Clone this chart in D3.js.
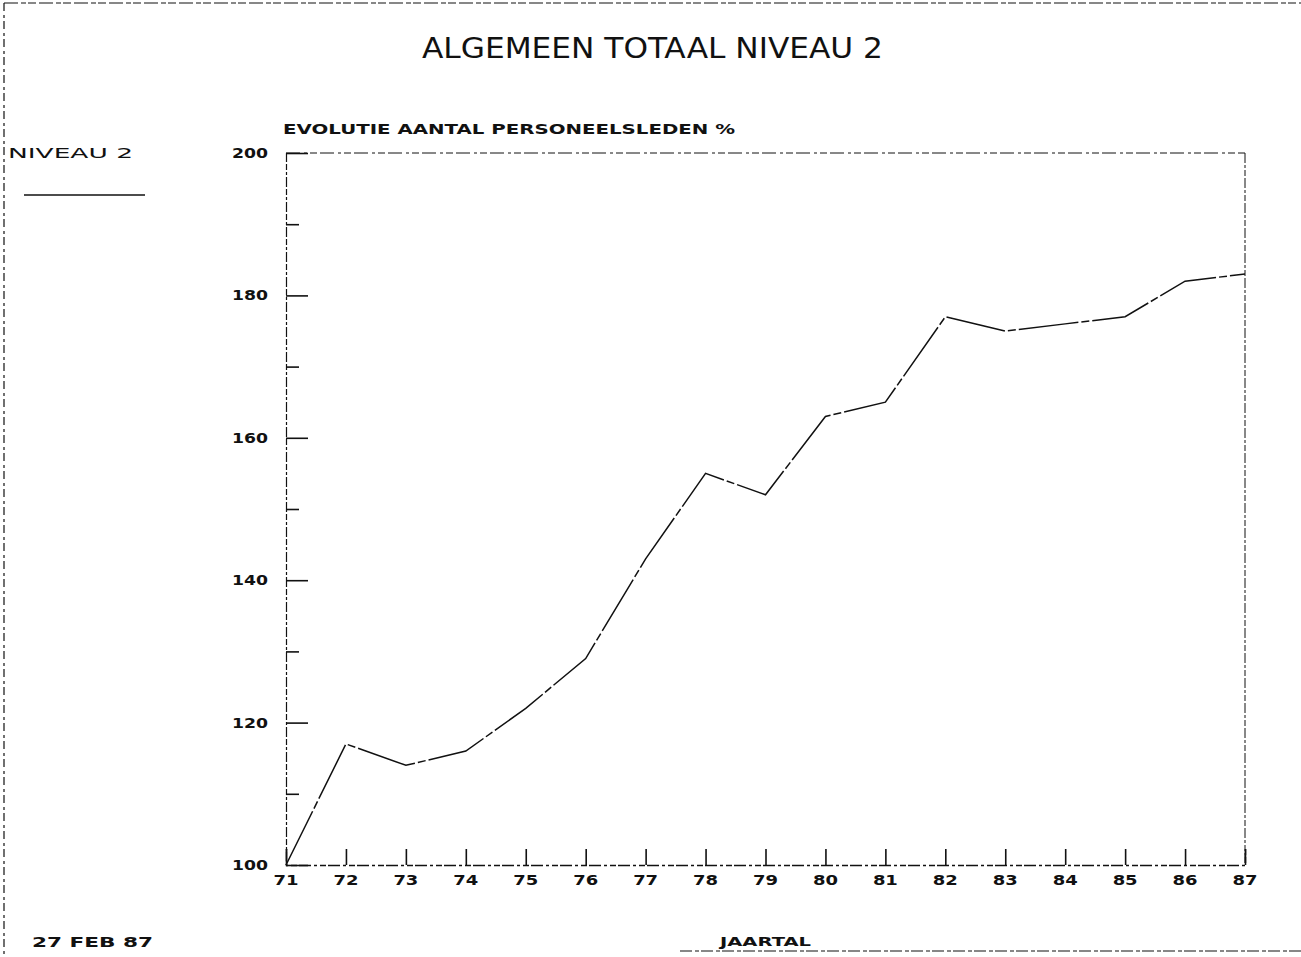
<!DOCTYPE html>
<html><head><meta charset="utf-8">
<script src="https://cdn.jsdelivr.net/npm/d3@7"></script>
<style>
html,body{margin:0;padding:0;background:#fff;}
svg{display:block;}
.lbl{font-family:"DejaVu Sans",sans-serif;font-weight:bold;fill:#111;}
</style></head>
<body>
<script>
const years = [71,72,73,74,75,76,77,78,79,80,81,82,83,84,85,86,87];
const yearLabels = ["71","72","73","74","75","76","77","78","79","80","81","82","83","84","85","86","87"];
const niveau2 = [100,117,114,116,122,129,143,155,152,163,165,177,175,176,177,182,183];
const yMajorTicks = [100,120,140,160,180,200];
const yMinorTicks = [110,130,150,170,190];

const W = 1301, H = 957;
const svg = d3.select("body").append("svg").attr("width", W).attr("height", H);

const x = d3.scaleLinear().domain([71,87]).range([286,1245]);
const y = d3.scaleLinear().domain([100,200]).range([865,153]);

const ink = "#111";
const dashAxis = "10,2,3,2,6,2";

function stretched(sel, len){
  return sel.attr("textLength", len).attr("lengthAdjust","spacingAndGlyphs");
}

// outer page border (dashed, plotter style)
svg.append("line").attr("x1",4).attr("x2",1301).attr("y1",3).attr("y2",3)
  .attr("stroke",ink).attr("stroke-width",1.2).attr("stroke-dasharray","14,3,5,2,8,3");
svg.append("line").attr("x1",4).attr("x2",4).attr("y1",3).attr("y2",957)
  .attr("stroke",ink).attr("stroke-width",1.2).attr("stroke-dasharray","8,4,3,3");
svg.append("line").attr("x1",680).attr("x2",1301).attr("y1",951).attr("y2",951)
  .attr("stroke",ink).attr("stroke-width",1.2).attr("stroke-dasharray","12,3,4,2");

// title
stretched(svg.append("text").attr("x",422).attr("y",58)
  .style("font-family","'Liberation Sans Narrow','DejaVu Sans Condensed',sans-serif")
  .style("font-size","29px").style("font-weight","normal").attr("fill",ink)
  .text("ALGEMEEN TOTAAL NIVEAU 2"), 461);

// subtitle
stretched(svg.append("text").attr("class","lbl").attr("x",283).attr("y",134)
  .style("font-size","13.5px")
  .text("EVOLUTIE AANTAL PERSONEELSLEDEN %"), 452);

// legend
stretched(svg.append("text").attr("x",8).attr("y",158)
  .style("font-family","'DejaVu Sans',sans-serif").style("font-size","13.5px")
  .attr("fill",ink).text("NIVEAU 2"), 125);
svg.append("line").attr("x1",24).attr("x2",145).attr("y1",195).attr("y2",195)
  .attr("stroke",ink).attr("stroke-width",1.5);

// date
stretched(svg.append("text").attr("class","lbl").attr("x",32).attr("y",947)
  .style("font-size","13.5px").text("27 FEB 87"), 121);

// x-axis title
stretched(svg.append("text").attr("class","lbl").attr("x",720).attr("y",946)
  .style("font-size","13px").text("JAARTAL"), 91);

// frame
const g = svg.append("g");
g.append("line").attr("x1",x(71)).attr("x2",x(87)).attr("y1",y(200)).attr("y2",y(200))
  .attr("stroke",ink).attr("stroke-width",1).attr("stroke-dasharray","14,4,3,3,7,3");
g.append("line").attr("x1",x(87)).attr("x2",x(87)).attr("y1",y(200)).attr("y2",y(100))
  .attr("stroke",ink).attr("stroke-width",1).attr("stroke-dasharray",dashAxis);

// y axis, ticks pointing inward
const yAxisG = g.append("g").attr("transform",`translate(${x(71)},0)`)
  .call(d3.axisRight(y).tickValues(yMajorTicks).tickSize(22).tickFormat(""));
yAxisG.select(".domain").attr("stroke",ink).attr("stroke-dasharray",dashAxis).attr("stroke-width",1.2);
yAxisG.selectAll(".tick line").attr("stroke",ink).attr("stroke-width",1.6);
const yMinorG = g.append("g").attr("transform",`translate(${x(71)},0)`)
  .call(d3.axisRight(y).tickValues(yMinorTicks).tickSize(13).tickFormat(""));
yMinorG.select(".domain").remove();
yMinorG.selectAll(".tick line").attr("stroke",ink).attr("stroke-width",1.6);
// y labels
g.selectAll("text.ylab").data(yMajorTicks).join("text")
  .attr("class","lbl ylab").attr("x",232).attr("y",d=>y(d)+5)
  .attr("textLength",36).attr("lengthAdjust","spacingAndGlyphs")
  .style("font-size","13.5px").text(d=>d);

// x axis, ticks upward
const xAxisG = g.append("g").attr("transform",`translate(0,${y(100)})`)
  .call(d3.axisTop(x).tickValues(years).tickSize(16).tickFormat(""));
xAxisG.select(".domain").attr("stroke",ink).attr("stroke-dasharray","12,3,3,3,6,2").attr("stroke-width",1.4);
xAxisG.selectAll(".tick line").attr("stroke",ink).attr("stroke-width",1.6);
g.selectAll("text.xlab").data(years).join("text")
  .attr("class","lbl xlab").attr("x",d=>x(d)-12.5).attr("y",885)
  .attr("textLength",25).attr("lengthAdjust","spacingAndGlyphs")
  .style("font-size","13.5px").text((d,i)=>yearLabels[i]);

// data line
const line = d3.line().x((d,i)=>x(years[i])).y(d=>y(d));
g.append("path").datum(niveau2).attr("d",line).attr("fill","none")
  .attr("stroke",ink).attr("stroke-width",1.5).attr("stroke-dasharray","60,3,8,3")
  .attr("stroke-linejoin","miter");
</script>
</body></html>
